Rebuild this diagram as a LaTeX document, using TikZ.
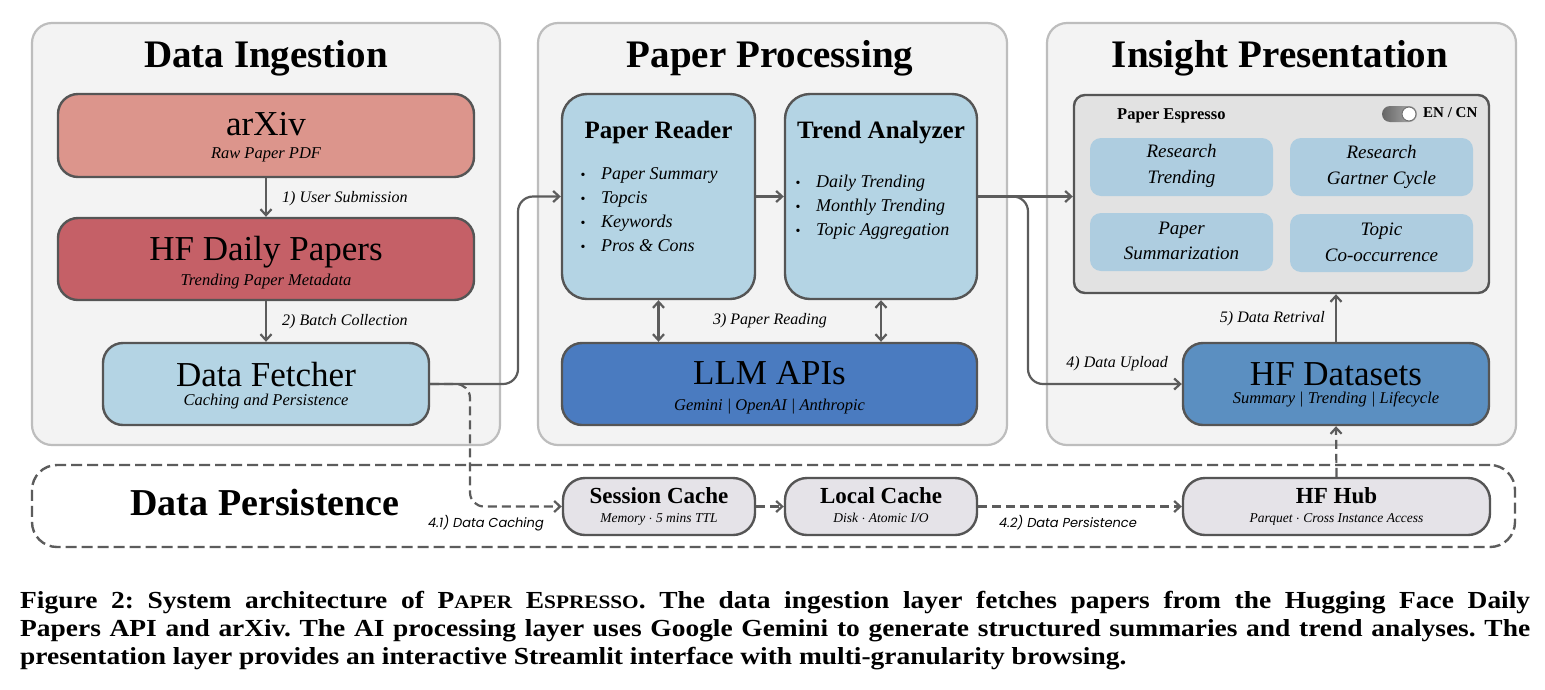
\documentclass[tikz,border=0pt]{standalone}
\usepackage{fontspec}
\setmainfont{Liberation Serif}
\newfontfamily\lblsans{Poppins}
\newfontfamily\capfont{Liberation Serif}[FakeStretch=1.12]
\usetikzlibrary{arrows.meta}

\definecolor{panelfill}{HTML}{F3F3F3}
\definecolor{paneldraw}{HTML}{BDBDBD}
\definecolor{edge}{HTML}{555555}
\definecolor{wire}{HTML}{5C5C5C}
\definecolor{arxivred}{HTML}{DC958C}
\definecolor{hfred}{HTML}{C56067}
\definecolor{paleblue}{HTML}{B4D4E4}
\definecolor{llmblue}{HTML}{4A7BC0}
\definecolor{dsblue}{HTML}{5B8FC1}
\definecolor{winfill}{HTML}{E2E2E2}
\definecolor{cardblue}{HTML}{AECDE0}
\definecolor{cachefill}{HTML}{E5E3E8}

\newcommand\fsz[1]{\fontsize{#1}{#1}\selectfont}

\tikzset{
  panel/.style={draw=paneldraw, line width=2.2pt, fill=panelfill, rounded corners=20pt, inner sep=0pt},
  blockbox/.style={draw=edge, line width=2.4pt, rounded corners=20pt, inner sep=0pt},
  cachebox/.style={draw=edge, line width=2.4pt, fill=cachefill, rounded corners=22pt, inner sep=0pt},
  cardbox/.style={fill=cardblue, rounded corners=11pt, inner sep=0pt, minimum width=183pt, minimum height=58pt},
  txt/.style={inner sep=0pt, anchor=base},
  heading/.style={txt, font=\bfseries\fsz{39}},
  bigname/.style={txt, font=\fsz{35}},
  subname/.style={txt, font=\itshape\fsz{16.5}},
  steplabel/.style={txt, font=\itshape\fsz{16}},
  itemtext/.style={inner sep=0pt, anchor=base west, font=\itshape\fsz{18}},
  dot/.style={inner sep=0pt, anchor=base, font=\fsz{14}},
  cardtext/.style={txt, font=\itshape\fsz{19}},
  flow/.style={draw=wire, line width=2.2pt, -{Straight Barb[length=6pt,width=11pt]}},
  dflow/.style={flow, dash pattern=on 9pt off 5pt},
}

\begin{document}
\begin{tikzpicture}[x=1pt,y=-1pt]
\useasboundingbox (0,0) rectangle (1545,689);
\fill[white] (0,0) rectangle (1545,689);

% ---------- layer panels ----------
\node[panel, minimum width=468pt, minimum height=422pt] (ingest) at (266,234) {};
\node[panel, minimum width=469pt, minimum height=422pt] (process) at (772.5,234) {};
\node[panel, minimum width=469pt, minimum height=422pt] (present) at (1281.5,234) {};
\node[draw=wire, line width=2.4pt, dash pattern=on 11pt off 5pt, rounded corners=25pt,
      minimum width=1483pt, minimum height=82pt, inner sep=0pt] (persist) at (773.5,506) {};

\node[heading] (h1) at (266,67) {Data Ingestion};
\node[heading] (h2) at (770,67) {Paper Processing};
\node[heading] (h3) at (1280,67) {Insight Presentation};
\node[heading, font=\bfseries\fsz{38}] (h4) at (265,515) {Data Persistence};

% ---------- data ingestion ----------
\node[blockbox, fill=arxivred, minimum width=416pt, minimum height=83pt] (arxiv) at (266,135.5) {};
\node[bigname] (arxivname) at (266,135) {arXiv};
\node[subname] (arxivsub) at (266,158) {Raw Paper PDF};

\node[blockbox, fill=hfred, minimum width=416pt, minimum height=82pt] (daily) at (266,259) {};
\node[bigname] (dailyname) at (266,260) {HF Daily Papers};
\node[subname] (dailysub) at (266,285) {Trending Paper Metadata};

\node[blockbox, fill=paleblue, minimum width=326pt, minimum height=82pt] (fetch) at (266,384) {};
\node[bigname] (fetchname) at (266,386) {Data Fetcher};
\node[subname] (fetchsub) at (266,405) {Caching and Persistence};

\node[steplabel, anchor=base west] (s1) at (282,202) {1) User Submission};
\node[steplabel, anchor=base west] (s2) at (282,325) {2) Batch Collection};

% ---------- paper processing ----------
\node[blockbox, fill=paleblue, rounded corners=25pt, minimum width=193pt, minimum height=205pt] (reader) at (658.5,196.5) {};
\node[txt, font=\bfseries\fsz{25}] (readername) at (658.5,138) {Paper Reader};
\node[dot] (rb1) at (583,179) {•};
\node[itemtext] (ri1) at (601,179) {Paper Summary};
\node[dot] (rb2) at (583,203) {•};
\node[itemtext] (ri2) at (601,203) {Topcis};
\node[dot] (rb3) at (583,227) {•};
\node[itemtext] (ri3) at (601,227) {Keywords};
\node[dot] (rb4) at (583,251) {•};
\node[itemtext] (ri4) at (601,251) {Pros \& Cons};

\node[blockbox, fill=paleblue, rounded corners=25pt, minimum width=192pt, minimum height=205pt] (trend) at (881,196.5) {};
\node[txt, font=\bfseries\fsz{25}] (trendname) at (881,138) {Trend Analyzer};
\node[dot] (tb1) at (798,187) {•};
\node[itemtext] (ti1) at (816,187) {Daily Trending};
\node[dot] (tb2) at (798,211) {•};
\node[itemtext] (ti2) at (816,211) {Monthly Trending};
\node[dot] (tb3) at (798,235) {•};
\node[itemtext] (ti3) at (816,235) {Topic Aggregation};

\node[blockbox, fill=llmblue, minimum width=415pt, minimum height=82pt] (llm) at (769.5,384) {};
\node[bigname] (llmname) at (769.5,384) {LLM APIs};
\node[subname] (llmsub) at (769.5,410) {Gemini | OpenAI | Anthropic};

\node[steplabel] (s3) at (770,324) {3) Paper Reading};

% ---------- insight presentation ----------
\node[draw=edge, line width=2.4pt, fill=winfill, rounded corners=11pt, inner sep=0pt,
      minimum width=415pt, minimum height=198pt] (window) at (1281.5,194) {};
\node[inner sep=0pt, anchor=base west, font=\bfseries\fsz{16.5}] (apptitle) at (1117,119) {Paper Espresso};
\node[inner sep=0pt, minimum width=35pt, minimum height=16pt, rounded corners=8pt,
      left color=black!60, right color=black!30] (switch) at (1399.5,114) {};
\node[circle, draw=black!55, line width=1pt, fill=white, minimum size=14pt, inner sep=0pt] (knob) at (1409,114) {};
\node[inner sep=0pt, anchor=base west, font=\bfseries\fsz{15}] (lang) at (1423,117) {EN / CN};

\node[cardbox] (c1) at (1181.5,167) {};
\node[cardtext] (c1a) at (1181.5,157) {Research};
\node[cardtext] (c1b) at (1181.5,183) {Trending};
\node[cardbox] (c2) at (1381.5,167) {};
\node[cardtext] (c2a) at (1381.5,158) {Research};
\node[cardtext] (c2b) at (1381.5,184) {Gartner Cycle};
\node[cardbox] (c3) at (1181.5,242) {};
\node[cardtext] (c3a) at (1181.5,234) {Paper};
\node[cardtext] (c3b) at (1181.5,259) {Summarization};
\node[cardbox] (c4) at (1381.5,243) {};
\node[cardtext] (c4a) at (1381.5,235) {Topic};
\node[cardtext] (c4b) at (1381.5,261) {Co-occurrence};

\node[blockbox, fill=dsblue, minimum width=306pt, minimum height=82pt] (datasets) at (1336,384) {};
\node[bigname] (dsname) at (1336,385) {HF Datasets};
\node[subname] (dssub) at (1336,403) {Summary | Trending | Lifecycle};

\node[steplabel, anchor=base east] (s4) at (1168,367) {4) Data Upload};
\node[steplabel, anchor=base east] (s5) at (1325,322) {5) Data Retrival};

% ---------- data persistence ----------
\node[cachebox, minimum width=192pt, minimum height=57pt] (session) at (659,506.5) {};
\node[txt, font=\bfseries\fsz{23}] (sessname) at (659,503) {Session Cache};
\node[txt, font=\itshape\fsz{13.5}] (sesssub) at (659,522) {Memory $\cdot$ 5 mins TTL};

\node[cachebox, minimum width=192pt, minimum height=57pt] (local) at (881,506.5) {};
\node[txt, font=\bfseries\fsz{23}] (localname) at (881,503) {Local Cache};
\node[txt, font=\itshape\fsz{13.5}] (localsub) at (881,522) {Disk $\cdot$ Atomic I/O};

\node[cachebox, minimum width=307pt, minimum height=57pt] (hub) at (1336.5,506.5) {};
\node[txt, font=\bfseries\fsz{23}] (hubname) at (1336.5,503) {HF Hub};
\node[txt, font=\itshape\fsz{13.5}] (hubsub) at (1336.5,522) {Parquet $\cdot$ Cross Instance Access};

\node[txt, anchor=base east, font=\lblsans\itshape\fsz{13}] (s41) at (544,527) {4.1) Data Caching};
\node[txt, font=\lblsans\itshape\fsz{13}] (s42) at (1068,527) {4.2) Data Persistence};

% ---------- connectors ----------
\draw[flow] (arxiv) -- (daily);
\draw[flow] (daily) -- (fetch);
\draw[dflow, rounded corners=14pt] (fetch.east) -- (470,384) |- (session.west);
\draw[flow, rounded corners=15pt] (fetch.east) -- (518,384) |- (reader.west);
\draw[flow] (reader) -- (trend);
\draw[flow, {Straight Barb[length=6pt,width=11pt]}-{Straight Barb[length=6pt,width=11pt]}] (reader.south) -- (reader.south |- llm.north);
\draw[flow, {Straight Barb[length=6pt,width=11pt]}-{Straight Barb[length=6pt,width=11pt]}] (trend.south) -- (trend.south |- llm.north);
\draw[flow] (trend.east) -- (trend.east -| window.west);
\draw[flow, rounded corners=15pt] (trend.east) -- (1028,196.5) |- (datasets.west);
\draw[flow] (datasets.north) -- (datasets.north |- window.south);
\draw[dflow] (session) -- (local);
\draw[dflow] (local) -- (hub);
\draw[dflow] (hub.north) -- (datasets.south);

% ---------- caption ----------
\node[inner sep=0pt, anchor=north west, text width=1510pt, align=justify,
      font=\capfont\bfseries\fontsize{24.5}{28}\selectfont\frenchspacing] (caption) at (20,591)
{Figure 2: System architecture of P{\fontsize{19}{28}\selectfont APER} E{\fontsize{19}{28}\selectfont SPRESSO}. The data ingestion layer fetches papers from the Hugging Face Daily\linebreak
Papers API and arXiv. The AI processing layer uses Google Gemini to generate structured summaries and trend analyses. The\linebreak
presentation layer provides an interactive Streamlit interface with multi-granularity browsing.\par};
\end{tikzpicture}
\end{document}
